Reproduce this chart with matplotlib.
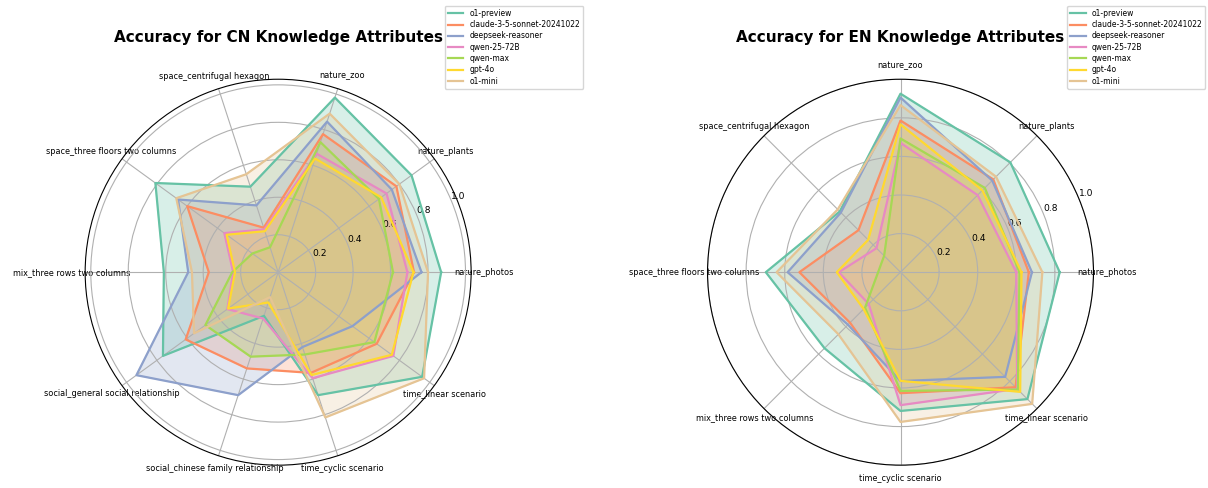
import numpy as np
import matplotlib
matplotlib.use("Agg")
import matplotlib.pyplot as plt

# models and colours (Set2)
models = ["o1-preview", "claude-3-5-sonnet-20241022", "deepseek-reasoner",
          "qwen-25-72B", "qwen-max", "gpt-4o", "o1-mini"]
colors = ["#66c2a5", "#fc8d62", "#8da0cb", "#e78ac3", "#a6d854", "#ffd92f", "#e5c494"]

# CN knowledge attributes
cn_cats = ["nature_photos", "nature_plants", "nature_zoo", "space_centrifugal hexagon",
           "space_three floors two columns", "mix_three rows two columns",
           "social_general social relationship", "social_chinese family relationship",
           "time_cyclic scenario", "time_linear scenario"]
cn_o1_preview = [0.87, 0.88, 0.98, 0.48, 0.81, 0.61, 0.76, 0.245, 0.69, 0.95]
cn_claude     = [0.725, 0.78, 0.775, 0.25, 0.60, 0.37, 0.61, 0.54, 0.565, 0.65]
cn_deepseek   = [0.765, 0.75, 0.845, 0.375, 0.66, 0.48, 0.935, 0.69, 0.42, 0.49]
cn_qwen72     = [0.69, 0.715, 0.665, 0.24, 0.355, 0.24, 0.335, 0.26, 0.595, 0.76]
cn_qwenmax    = [0.613, 0.665, 0.73, 0.14, 0.17, 0.245, 0.48, 0.474, 0.462, 0.635]
cn_gpt4o      = [0.722, 0.68, 0.638, 0.23, 0.34, 0.23, 0.33, 0.17, 0.577, 0.75]
cn_o1_mini    = [0.80, 0.80, 0.89, 0.55, 0.672, 0.46, 0.555, 0.14, 0.815, 0.963]

# EN knowledge attributes
en_cats = ["nature_photos", "nature_plants", "nature_zoo", "space_centrifugal hexagon",
           "space_three floors two columns", "mix_three rows two columns",
           "time_cyclic scenario", "time_linear scenario"]
en_o1_preview = [0.825, 0.805, 0.925, 0.445, 0.698, 0.557, 0.719, 0.93]
en_claude     = [0.665, 0.68, 0.786, 0.308, 0.524, 0.37, 0.627, 0.843]
en_deepseek   = [0.681, 0.672, 0.905, 0.437, 0.585, 0.385, 0.564, 0.767]
en_qwen72     = [0.60, 0.565, 0.670, 0.176, 0.32, 0.233, 0.689, 0.855]
en_qwenmax    = [0.617, 0.618, 0.693, 0.12, 0.116, 0.26, 0.615, 0.86]
en_gpt4o      = [0.627, 0.60, 0.766, 0.237, 0.33, 0.27, 0.563, 0.877]
en_o1_mini    = [0.735, 0.70, 0.866, 0.46, 0.642, 0.455, 0.776, 0.965]

cn_vals = [cn_o1_preview, cn_claude, cn_deepseek, cn_qwen72, cn_qwenmax, cn_gpt4o, cn_o1_mini]
en_vals = [en_o1_preview, en_claude, en_deepseek, en_qwen72, en_qwenmax, en_gpt4o, en_o1_mini]


def radar(ax, cats, vals, title, rmax):
    n = len(cats)
    angles = np.linspace(0, 2 * np.pi, n, endpoint=False).tolist()
    angles += angles[:1]
    for name, v, c in zip(models, vals, colors):
        v = list(v) + v[:1]
        ax.plot(angles, v, color=c, linewidth=1.6, label=name)
        ax.fill(angles, v, color=c, alpha=0.25)
    ax.set_xticks(angles[:-1])
    ax.set_xticklabels(cats, fontsize=5.9)
    ax.tick_params(axis="x", pad=-1)
    ax.set_yticks([0.2, 0.4, 0.6, 0.8, 1.0])
    ax.set_yticklabels(["0.2", "0.4", "0.6", "0.8", "1.0"], fontsize=6.6)
    ax.set_ylim(0, rmax)
    ax.set_title(title, fontsize=11, fontweight="bold", y=1.0, pad=27)
    ax.legend(loc="upper right", bbox_to_anchor=(1.3, 1.2), fontsize=5.5,
              labelspacing=0.3)


fig = plt.figure(figsize=(12.08, 4.88), dpi=100)
ax1 = fig.add_axes([0.0705, 0.0467, 0.3195, 0.791], projection="polar")
ax2 = fig.add_axes([0.5857, 0.0467, 0.3195, 0.791], projection="polar")

radar(ax1, cn_cats, cn_vals, "Accuracy for CN Knowledge Attributes", 1.03)
radar(ax2, en_cats, en_vals, "Accuracy for EN Knowledge Attributes", 1.0)

fig.savefig("out.png", dpi=100)
